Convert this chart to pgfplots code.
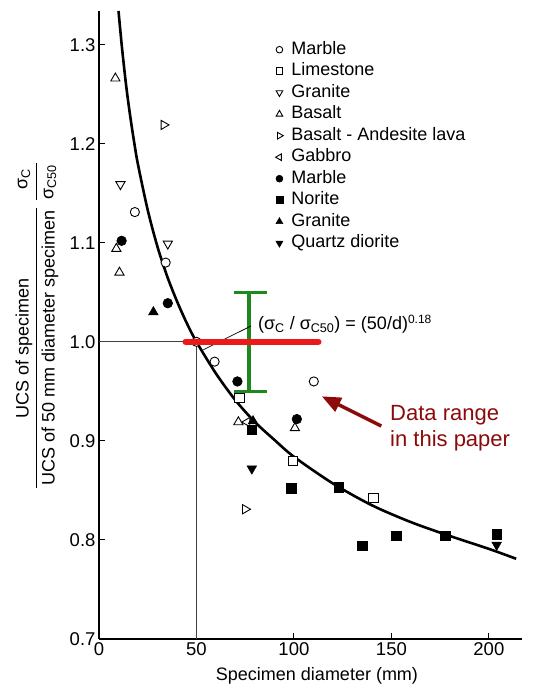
\documentclass[border=0pt]{standalone}
\usepackage{fontspec}
\setmainfont{Liberation Sans}
\usepackage{pgfplots}
\pgfplotsset{compat=1.18}
\usetikzlibrary{arrows.meta}
\definecolor{redline}{RGB}{235,25,25}
\definecolor{greenbar}{RGB}{30,135,30}
\definecolor{darkred}{RGB}{140,10,10}
\pgfplotsset{
  openm/.style={only marks, mark options={fill=white, draw=black, line width=0.9pt}},
  fillm/.style={only marks, mark options={fill=black, draw=black, line width=0.6pt}},
}
\begin{document}
\begin{tikzpicture}
\useasboundingbox (-99pt,-50pt) rectangle (437pt,639pt);
\begin{axis}[
  at={(0pt,0pt)}, anchor=south west,
  width=423pt, height=628pt, scale only axis,
  xmin=0, xmax=217, ymin=0.7, ymax=1.334,
  axis x line=bottom, axis y line=left,
  axis line style={-, line width=1.3pt},
  xtick={0,50,100,150,200},
  ytick={0.7,0.8,0.9,1.0,1.1,1.2,1.3},
  tick align=inside, major tick length=6pt,
  tick style={line width=1pt, black},
  yticklabel style={/pgf/number format/.cd, fixed, fixed zerofill, precision=1},
  /pgf/number format/assume math mode=true,
  tick label style={font=\fontsize{18.5}{21}\selectfont},
  clip=false,
  legend image code/.code={\draw[mark repeat=2,mark phase=2,#1] plot coordinates {(-4pt,0pt) (0pt,0pt) (4pt,0pt)};},
  legend image post style={every mark/.append style={scale=0.72}},
  legend cell align=left,
  legend style={draw=none, fill=none, at={(0.41,0.957)}, anchor=north west,
    font=\fontsize{18}{21}\selectfont, row sep=2.5pt, column sep=7pt,
    nodes={inner sep=1pt, text height=13pt, text depth=4pt}},
]
% reference lines
\draw[black!75, line width=0.8pt] (axis cs:0,1) -- (axis cs:50,1) -- (axis cs:50,0.7);
% fitted curve (50/d)^0.18
\addplot[black, line width=2.6pt, smooth, forget plot] coordinates {
(10,1.334) (11,1.313) (12,1.293) (14,1.2575) (16,1.228) (18,1.202) (20,1.179)
(25,1.133) (30,1.096) (35,1.066) (40,1.041) (45,1.019) (50,1.0) (60,0.968)
(70,0.941) (80,0.919) (90,0.901) (100,0.884) (120,0.857) (140,0.835)
(160,0.818) (180,0.804) (200,0.791) (214,0.781)};
% green bar
\draw[greenbar, line width=3.2pt] (axis cs:77,0.95) -- (axis cs:77,1.05);
\draw[greenbar, line width=3.2pt] (axis cs:69,1.05) -- (axis cs:86,1.05);
\draw[greenbar, line width=3.2pt] (axis cs:69,0.95) -- (axis cs:86,0.95);
% annotation leader
\draw[black, line width=0.7pt] (axis cs:78,1.016) -- (axis cs:53.5,0.992);
\node[anchor=west, font=\fontsize{18}{21}\selectfont, inner sep=0pt] at (axis cs:81.5,1.018)
  {(σ\textsubscript{C} / σ\textsubscript{C50}) = (50/d)\textsuperscript{\fontsize{12}{12}\selectfont 0.18}};
% arrow
\draw[darkred, line width=3.5pt, -{Triangle[length=19pt,width=15pt]}] (axis cs:144.8,0.915) -- (axis cs:114.3,0.945);
% red line end points (drawn after the axis, on top)
\coordinate (r1) at (axis cs:44.5,1.0);
\coordinate (r2) at (axis cs:112.5,1.0);
% data
\addplot[openm, mark=*, mark size=4.6pt] coordinates {(18.4,1.131) (34.2,1.080) (50,1.0) (59.3,0.980) (110.2,0.960)};
\addlegendentry{Marble}
\addplot[openm, mark=square*, mark size=4.6pt] coordinates {(72,0.943) (99.7,0.880) (140.8,0.842)};
\addlegendentry{Limestone}
\addplot[only marks, mark=triangle*, mark size=5.3pt, mark options={fill=white, draw=black, line width=0.9pt, rotate=180}] coordinates {(11,1.159) (35.3,1.099)};
\addlegendentry{Granite}
\addplot[openm, mark=triangle*, mark size=5.3pt] coordinates {(8.4,1.266) (8.9,1.094) (10.5,1.070) (71.5,0.919) (100.5,0.913)};
\addlegendentry{Basalt}
\addplot[only marks, mark=triangle*, mark size=5.3pt, mark options={fill=white, draw=black, line width=0.9pt, rotate=-90}] coordinates {(33.2,1.219) (75,0.831)};
\addlegendentry{Basalt - Andesite lava}
\addplot[only marks, mark=triangle*, mark size=5.3pt, mark options={fill=white, draw=black, line width=0.9pt, rotate=90}] coordinates {(76,0.919)};
\addlegendentry{Gabbro}
\addplot[fillm, mark=*, mark size=4.8pt] coordinates {(11.6,1.102) (35.3,1.039) (71,0.960) (101.5,0.922)};
\addlegendentry{Marble}
\addplot[fillm, mark=square*, mark size=4.8pt] coordinates {(78.4,0.911) (98.5,0.852) (123,0.853) (135.2,0.794) (152.6,0.804) (177.6,0.804) (204,0.806)};
\addlegendentry{Norite}
\addplot[fillm, mark=triangle*, mark size=5.5pt] coordinates {(27.9,1.030) (79,0.920)};
\addlegendentry{Granite}
\addplot[only marks, mark=triangle*, mark size=5.5pt, mark options={fill=black, draw=black, line width=0.6pt, rotate=180}] coordinates {(78.4,0.872) (204,0.795)};
\addlegendentry{Quartz diorite}
\end{axis}
\draw[redline, line width=6.5pt, line cap=round] (r1) -- (r2);
% axis labels
\node[font=\fontsize{18}{21}\selectfont] at (218pt,-37pt) {Specimen diameter (mm)};
\node[rotate=90, font=\fontsize{18}{21}\selectfont] at (-75pt,291pt) {UCS of specimen};
\draw[black, line width=1pt] (-62pt,151pt) -- (-62pt,431pt);
\node[rotate=90, font=\fontsize{18}{21}\selectfont] at (-49pt,291pt) {UCS of 50 mm diameter specimen};
\node[rotate=90, font=\fontsize{18}{21}\selectfont] at (-75pt,460pt) {σ\textsubscript{C}};
\draw[black, line width=1pt] (-62pt,439pt) -- (-62pt,476pt);
\node[rotate=90, font=\fontsize{18}{21}\selectfont] at (-49pt,457pt) {σ\textsubscript{C50}};
% data range text
\node[anchor=west, align=left, text=darkred, font=\fontsize{22}{26}\selectfont, inner sep=0pt] at (291pt,211pt) {Data range\\in this paper};
\end{tikzpicture}
\end{document}
